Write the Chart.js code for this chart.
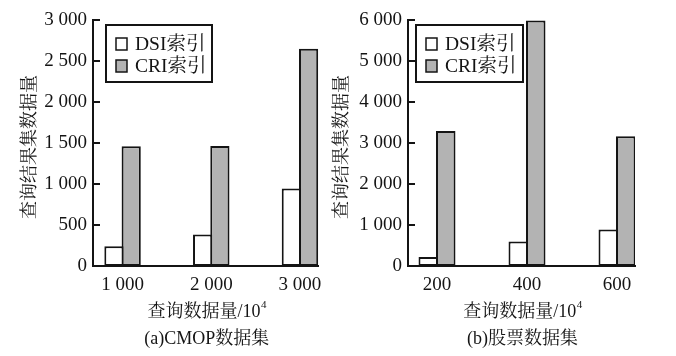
<!DOCTYPE html>
<html>
<head>
<meta charset="utf-8">
<script src="https://cdn.jsdelivr.net/npm/chart.js@4.4.1/dist/chart.umd.min.js"></script>
<style>
html,body{margin:0;padding:0;background:#fff;}
#wrap{position:relative;width:676px;height:356px;overflow:hidden;}
#cA{position:absolute;left:0;top:0;}
#cB{position:absolute;left:330px;top:0;}
</style>
</head>
<body>
<div id="wrap">
<canvas id="cA" width="330" height="356"></canvas>
<canvas id="cB" width="346" height="356"></canvas>
</div>
<script>
// ---- data ----
const seriesNames = ['DSI索引', 'CRI索引'];
const categoriesA = ['1 000', '2 000', '3 000'];
const dsiA = [240, 385, 945];
const criA = [1460, 1462, 2650];
const categoriesB = ['200', '400', '600'];
const dsiB = [220, 600, 888];
const criB = [3290, 5990, 3165];
const yTitle = '查询结果集数据量';
const xTitleMain = '查询数据量/10';
const xTitleSup = '4';
const captionA = '(a)CMOP数据集';
const captionB = '(b)股票数据集';

const FONT = "'Liberation Serif', 'Noto Serif CJK SC', 'Noto Sans CJK SC', serif";
const INK = '#141414';

function fmt(n) {
  if (n >= 1000) return Math.floor(n / 1000) + ' ' + String(n % 1000).padStart(3, '0');
  return String(n);
}

const decor = {
  id: 'decor',
  afterDraw(chart) {
    const o = chart.options.plugins.decor;
    const ctx = chart.ctx, ca = chart.chartArea, ys = chart.scales.y;
    ctx.save();
    // inward tick marks on y axis
    ctx.strokeStyle = INK; ctx.lineWidth = 2;
    ys.ticks.forEach(t => {
      if (t.value === 0) return;
      const y = Math.round(ys.getPixelForValue(t.value));
      ctx.beginPath(); ctx.moveTo(ca.left, y); ctx.lineTo(ca.left + 7, y); ctx.stroke();
    });
    // y title
    ctx.fillStyle = INK;
    ctx.font = '18px ' + FONT;
    ctx.textAlign = 'center'; ctx.textBaseline = 'middle';
    ctx.save();
    ctx.translate(o.yTitleX, (ca.top + ca.bottom) / 2 + 4);
    ctx.rotate(-Math.PI / 2);
    ctx.fillText(yTitle, 0, 0);
    ctx.restore();
    // x title with superscript
    const cx = (ca.left + ca.right) / 2 + 1;
    ctx.font = '18px ' + FONT;
    const w1 = ctx.measureText(xTitleMain).width;
    ctx.font = '11px ' + FONT;
    const w2 = ctx.measureText(xTitleSup).width;
    const sx = cx - (w1 + w2) / 2;
    ctx.textAlign = 'left';
    ctx.font = '18px ' + FONT;
    ctx.fillText(xTitleMain, sx, 312);
    ctx.font = '11px ' + FONT;
    ctx.fillText(xTitleSup, sx + w1 + 0.5, 305);
    // caption
    ctx.textAlign = 'center';
    ctx.font = '18px ' + FONT;
    ctx.fillText(o.caption, cx, 339);
    // legend box
    const lx = ca.left + o.legendDx, ly = 25, lw = o.legendW, lh = 57;
    ctx.fillStyle = '#fff';
    ctx.fillRect(lx, ly, lw, lh);
    ctx.strokeStyle = INK; ctx.lineWidth = 2;
    ctx.strokeRect(lx, ly, lw, lh);
    chart.data.datasets.forEach((ds, i) => {
      const ry = ly + 19 + i * 22;
      ctx.fillStyle = ds.backgroundColor;
      ctx.fillRect(lx + 10, ry - 6, 11, 12);
      ctx.lineWidth = 1.5;
      ctx.strokeRect(lx + 10, ry - 6, 11, 12);
      ctx.fillStyle = INK;
      ctx.textAlign = 'left';
      ctx.font = '19.5px ' + FONT;
      ctx.fillText(ds.label, lx + 29, ry + 1);
    });
    ctx.restore();
  }
};

function build(id, cats, dsi, cri, yMax, yStep, xMin, xMax, caW, caLeft, caRight, o) {
  const mk = arr => arr.map((v, i) => ({ x: i + 1, y: v }));
  return new Chart(document.getElementById(id), {
    type: 'bar',
    data: {
      datasets: [
        { label: seriesNames[0], data: mk(dsi), backgroundColor: '#ffffff', borderColor: INK, borderWidth: 2, borderSkipped: false },
        { label: seriesNames[1], data: mk(cri), backgroundColor: '#b3b3b3', borderColor: INK, borderWidth: 2, borderSkipped: false }
      ]
    },
    options: {
      responsive: false,
      animation: false,
      events: [],
      datasets: { bar: { barPercentage: 1.114, categoryPercentage: 0.389 } },
      layout: { padding: { left: 0, top: 20, right: caW - caRight, bottom: 0 } },
      plugins: { legend: { display: false }, tooltip: { enabled: false }, decor: o },
      scales: {
        x: {
          type: 'linear', min: xMin, max: xMax, offset: false,
          grid: { display: false, drawTicks: false },
          border: { display: true, color: INK, width: 2 },
          afterBuildTicks: s => { s.ticks = cats.map((c, i) => ({ value: i + 1 })); },
          afterFit: s => { s.height = 356 - 266; },
          ticks: {
            color: INK, padding: 8, maxRotation: 0, autoSkip: false,
            font: { family: FONT, size: 19 },
            callback: v => cats[Math.round(v) - 1]
          }
        },
        y: {
          min: 0, max: yMax,
          grid: { display: false, drawTicks: false },
          border: { display: true, color: INK, width: 2 },
          afterFit: s => { s.width = caLeft; },
          ticks: {
            stepSize: yStep, color: INK, padding: 6,
            font: { family: FONT, size: 19 },
            callback: v => fmt(v)
          }
        }
      }
    },
    plugins: [decor]
  });
}

build('cA', categoriesA, dsiA, criA, 3000, 500, 1 - 30 / 90, 3 + 19 / 90, 330, 93, 322,
  { yTitleX: 30, caption: captionA, legendDx: 13, legendW: 106 });
build('cB', categoriesB, dsiB, criB, 6000, 1000, 1 - 29 / 90, 3 + 18 / 90, 346, 78, 305,
  { yTitleX: 12, caption: captionB, legendDx: 8, legendW: 107 });
</script>
</body>
</html>
